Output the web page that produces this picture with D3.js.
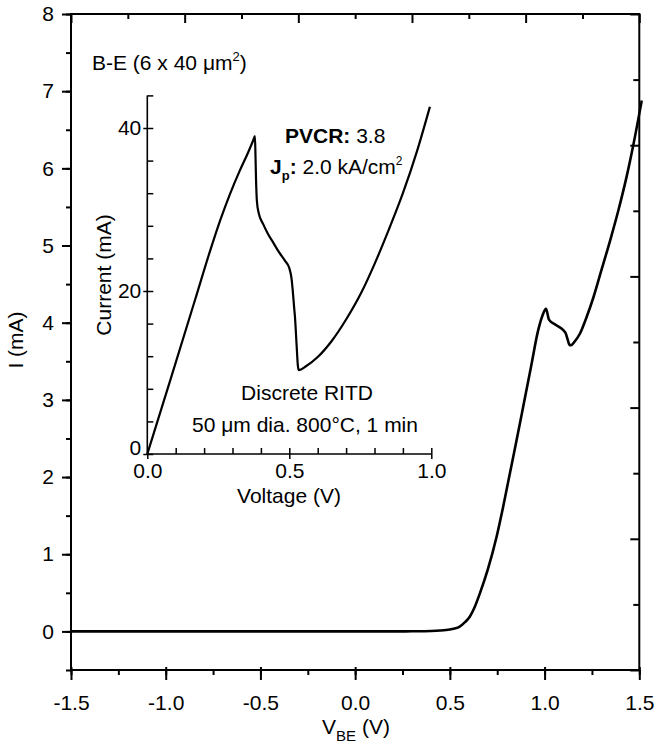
<!DOCTYPE html>
<html><head><meta charset="utf-8">
<script src="https://cdn.jsdelivr.net/npm/d3@7"></script>
<style>
html,body{margin:0;padding:0;background:#fff;}
text{font-family:"Liberation Sans",Arial,Helvetica,sans-serif;fill:#000;}
</style></head>
<body>
<svg id="chart" width="655" height="746"></svg>
<script>
// ---- Main plot data: I (mA) vs V_BE (V)
const mainV = [-1.5,-1.0,-0.5,0.0,0.2,0.3,0.4,0.45,0.5,0.53,0.55,0.58,0.605,0.63,0.658,0.70,0.746,0.78,0.817,0.85,0.887,0.93,0.966,0.99,1.007,1.012,1.023,1.06,1.10,1.112,1.122,1.132,1.14,1.16,1.187,1.22,1.258,1.30,1.35,1.39,1.43,1.469,1.513];
const mainI = [0,0,0,0,0,0.002,0.006,0.012,0.025,0.04,0.06,0.12,0.19,0.31,0.49,0.80,1.22,1.60,2.05,2.45,2.91,3.45,3.90,4.10,4.18,4.15,4.04,3.97,3.90,3.86,3.78,3.71,3.71,3.76,3.86,4.06,4.33,4.68,5.10,5.46,5.86,6.31,6.88];
const mainXTicks = [-1.5,-1.0,-0.5,0.0,0.5,1.0,1.5];
const mainXTickLabels = ["-1.5","-1.0","-0.5","0.0","0.5","1.0","1.5"];
const mainYTicks = [0,1,2,3,4,5,6,7,8];
const mainYTickLabels = ["0","1","2","3","4","5","6","7","8"];

// ---- Inset data: Current (mA) vs Voltage (V)
const insetV = [0,0.084,0.168,0.22,0.256,0.29,0.326,0.355,0.372,0.379,0.381,0.383,0.386,0.392,0.408,0.425,0.444,0.465,0.485,0.50,0.508,0.512,0.517,0.52,0.526,0.530,0.533,0.56,0.60,0.65,0.70,0.755,0.80,0.85,0.90,0.95,0.995];
const insetI = [0,9.4,18.9,24.8,28.6,31.8,34.8,37.0,38.4,39.0,36.5,33.5,31.0,29.6,28.2,27.0,25.9,24.7,23.7,22.8,21.5,20.1,18.0,16.8,13.2,10.9,10.3,10.8,11.9,13.9,16.5,19.9,23.3,27.5,32.0,37.2,42.6];
const insetXTicks = [0,0.5,1.0];
const insetXTickLabels = ["0.0","0.5","1.0"];
const insetYTicks = [0,20,40];
const insetYTickLabels = ["0","20","40"];

const svg = d3.select("#chart");

// ---------- main scales
const x = d3.scaleLinear().domain([-1.5,1.5]).range([71,639.3]);
const y = d3.scaleLinear().domain([-0.5,8]).range([670,14]);
const FS = "21px";

const g = svg.append("g");
g.append("rect").attr("x",x(-1.5)).attr("y",y(8)).attr("width",x(1.5)-x(-1.5)).attr("height",y(-0.5)-y(8))
  .attr("fill","none").attr("stroke","#000").attr("stroke-width",2);

// bottom axis
const xMinor = d3.range(-1.5,1.51,0.25);
const bAxis = g.append("g").attr("transform",`translate(0,${y(-0.5)})`)
  .call(d3.axisBottom(x).tickValues(xMinor).tickSize(5).tickFormat(""));
bAxis.select(".domain").remove();
bAxis.selectAll("line").attr("stroke-width",2);
const bMaj = g.append("g").attr("transform",`translate(0,${y(-0.5)})`)
  .call(d3.axisBottom(x).tickValues(mainXTicks).tickSize(10).tickFormat((d,i)=>mainXTickLabels[i]));
bMaj.select(".domain").remove();
bMaj.selectAll("line").attr("stroke-width",2).attr("y1",-3);
bMaj.selectAll("text").attr("font-size",FS).attr("font-family",null).attr("dy",null).attr("y",40);

// left axis
const yMinor = d3.range(-0.5,8.01,0.5);
const lAxis = g.append("g").attr("transform",`translate(${x(-1.5)},0)`)
  .call(d3.axisLeft(y).tickValues(yMinor).tickSize(5).tickFormat(""));
lAxis.select(".domain").remove();
lAxis.selectAll("line").attr("stroke-width",2);
const lMaj = g.append("g").attr("transform",`translate(${x(-1.5)},0)`)
  .call(d3.axisLeft(y).tickValues(mainYTicks).tickSize(9).tickPadding(8)
    .tickFormat((d,i)=>mainYTickLabels[i]));
lMaj.select(".domain").remove();
lMaj.selectAll("line").attr("stroke-width",2);
lMaj.selectAll("text").attr("font-size",FS).attr("font-family",null);

// top axis (secondary, 10 divisions, inward)
const xTop = d3.scaleLinear().domain([0,10]).range([x(-1.5),x(1.5)]);
const topTicks = d3.range(0,11);
const tAxis = g.append("g").attr("transform",`translate(0,${y(8)})`)
  .call(d3.axisBottom(xTop).tickValues(topTicks).tickSizeInner(0).tickSizeOuter(0).tickFormat(""));
tAxis.select(".domain").remove();
tAxis.selectAll(".tick line").attr("y2",d=>d%2===0?9:5).attr("stroke-width",2);

// right axis (secondary, 10 divisions, inward)
const yRight = d3.scaleLinear().domain([0,10]).range([y(8),y(-0.5)]);
const rightTicks = d3.range(0,11);
const rAxis = g.append("g").attr("transform",`translate(${x(1.5)},0)`)
  .call(d3.axisLeft(yRight).tickValues(rightTicks).tickSizeInner(0).tickSizeOuter(0).tickFormat(""));
rAxis.select(".domain").remove();
rAxis.selectAll(".tick line").attr("x2",d=>d%2===0?-9:-6).attr("stroke-width",2);

// main curve
const mainData = mainV.map((v,i)=>[v,mainI[i]]);
g.append("path").datum(mainData)
  .attr("fill","none").attr("stroke","#000").attr("stroke-width",2.6).attr("stroke-linejoin","round")
  .attr("d",d3.line().x(d=>x(d[0])).y(d=>y(d[1])).curve(d3.curveMonotoneX));

// axis titles
const xt = g.append("text").attr("x",356).attr("y",734).attr("text-anchor","middle").attr("font-size","21px");
xt.append("tspan").text("V");
xt.append("tspan").attr("font-size","15px").attr("dy",7).text("BE");
xt.append("tspan").attr("dy",-7).text(" (V)");
g.append("text").attr("transform","translate(23,340) rotate(-90)").attr("text-anchor","middle")
  .attr("font-size",FS).text("I (mA)");

// label
const be = g.append("text").attr("x",92).attr("y",70).attr("font-size",FS);
be.append("tspan").text("B-E (6 x 40 μm");
be.append("tspan").attr("font-size","13px").attr("dy",-9).text("2");
be.append("tspan").attr("dy",9).text(")");

// ---------- inset
const ix = d3.scaleLinear().domain([0,1.0]).range([147.3,431.3]);
const iy = d3.scaleLinear().domain([0,44]).range([454,95.4]);
const ig = svg.append("g");
ig.append("line").attr("x1",ix(0)).attr("x2",ix(1.0)).attr("y1",iy(0)).attr("y2",iy(0)).attr("stroke","#000").attr("stroke-width",1.6);
ig.append("line").attr("x1",ix(0)).attr("x2",ix(0)).attr("y1",iy(0)).attr("y2",iy(44)).attr("stroke","#000").attr("stroke-width",1.6);

const ixMinor = d3.range(0,1.001,0.1);
const ixa = ig.append("g").attr("transform",`translate(0,${iy(0)})`)
  .call(d3.axisTop(ix).tickValues(ixMinor).tickSize(6).tickFormat(""));
ixa.select(".domain").remove(); ixa.selectAll("line").attr("stroke-width",1.5);
const ixMaj = ig.append("g").attr("transform",`translate(0,${iy(0)})`)
  .call(d3.axisBottom(ix).tickValues(insetXTicks).tickSize(5).tickFormat((d,i)=>insetXTickLabels[i]));
ixMaj.select(".domain").remove(); ixMaj.selectAll("line").attr("stroke-width",1.5);
ixMaj.selectAll("text").attr("font-size",FS).attr("font-family",null).attr("dy",null).attr("y",24);

const iyMinor = d3.range(0,44.01,4);
const iya = ig.append("g").attr("transform",`translate(${ix(0)},0)`)
  .call(d3.axisRight(iy).tickValues(iyMinor).tickSize(6).tickFormat(""));
iya.select(".domain").remove(); iya.selectAll("line").attr("stroke-width",1.5);
const iyMaj = ig.append("g").attr("transform",`translate(${ix(0)},0)`)
  .call(d3.axisLeft(iy).tickValues(insetYTicks).tickSize(4).tickPadding(2).tickFormat((d,i)=>insetYTickLabels[i]));
iyMaj.select(".domain").remove(); iyMaj.selectAll("line").attr("stroke-width",1.5);
iyMaj.selectAll("text").attr("font-size",FS).attr("font-family",null)
  .attr("dy",d=>d===0?"0":"0.32em");

const insetData = insetV.map((v,i)=>[v,insetI[i]]);
ig.append("path").datum(insetData)
  .attr("fill","none").attr("stroke","#000").attr("stroke-width",2.2).attr("stroke-linejoin","round")
  .attr("d",d3.line().x(d=>ix(d[0])).y(d=>iy(d[1])).curve(d3.curveMonotoneX));

ig.append("text").attr("x",289).attr("y",503).attr("text-anchor","middle").attr("font-size",FS).text("Voltage (V)");
ig.append("text").attr("transform","translate(111,275) rotate(-90)").attr("text-anchor","middle")
  .attr("font-size",FS).text("Current (mA)");

const pv = ig.append("text").attr("x",285).attr("y",143).attr("font-size",FS);
pv.append("tspan").attr("font-weight","bold").text("PVCR:");
pv.append("tspan").text(" 3.8");
const jp = ig.append("text").attr("x",270).attr("y",174).attr("font-size",FS);
jp.append("tspan").attr("font-weight","bold").text("J");
jp.append("tspan").attr("font-weight","bold").attr("font-size","13px").attr("dy",6).text("p");
jp.append("tspan").attr("font-weight","bold").attr("dy",-6).text(":");
jp.append("tspan").text(" 2.0 kA/cm");
jp.append("tspan").attr("font-size","12px").attr("dy",-9).text("2");

ig.append("text").attr("x",307).attr("y",400).attr("text-anchor","middle").attr("font-size",FS).text("Discrete RITD");
ig.append("text").attr("x",305).attr("y",432).attr("text-anchor","middle").attr("font-size",FS).text("50 μm dia. 800°C, 1 min");
</script>
</body></html>
